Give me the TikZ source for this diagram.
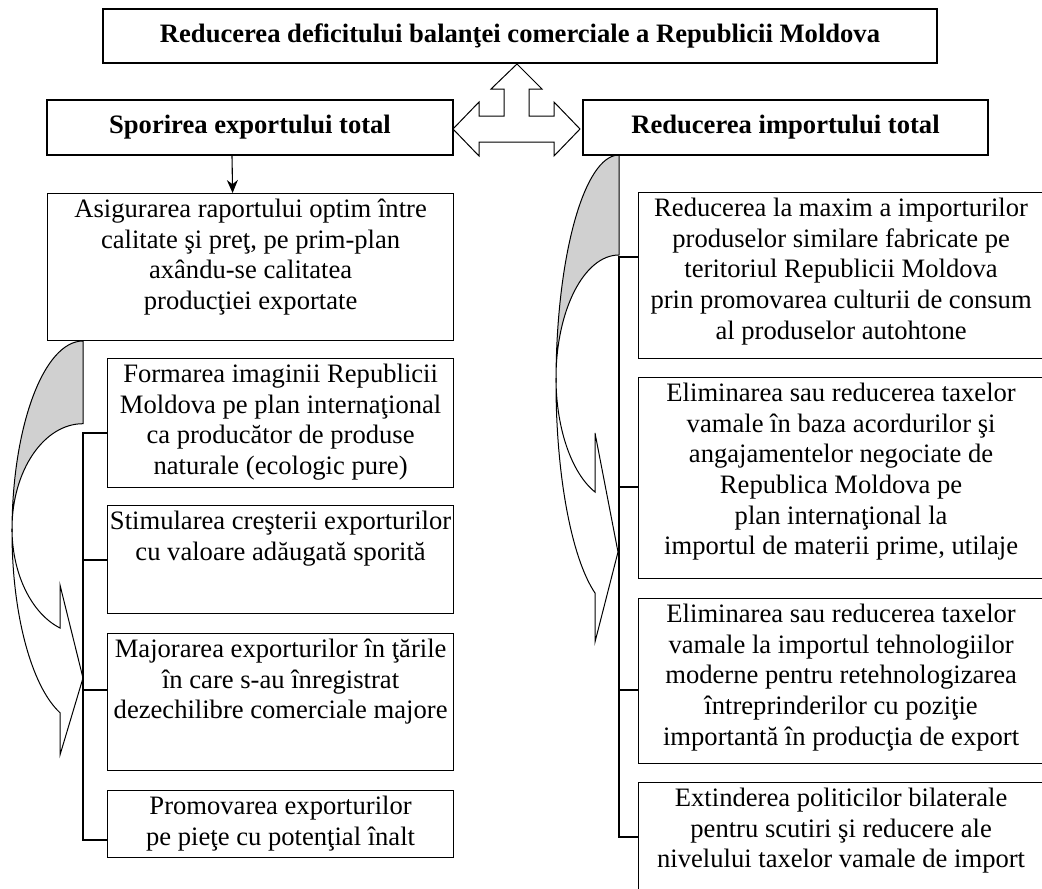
\documentclass[tikz,border=0pt]{standalone}
\usepackage{fontspec}
\setmainfont{Liberation Serif}
\usetikzlibrary{arrows.meta}
\definecolor{shade}{RGB}{208,208,208}
\begin{document}
\begin{tikzpicture}[x=1pt,y=1pt,
  box/.style={draw=black, line width=1.2pt, fill=white, inner sep=0pt, anchor=north west},
  hdr/.style={draw=black, line width=1.2pt, fill=white, inner sep=0pt, font=\fontsize{26.6}{30.6}\selectfont\bfseries},
  txt/.style={inner sep=0pt, anchor=north, align=center, font=\fontsize{26.6}{30.6}\selectfont},
  ln/.style={line width=1.1pt},
  band/.style={draw=black, line width=1pt, line join=miter},
]
\useasboundingbox (0,0) rectangle (1042,-889);
\clip (0,0) rectangle (1042,-889);

% curved arrow, left
\filldraw[band, fill=shade] (83,-341) arc[start angle=90,end angle=180,x radius=71pt,y radius=191pt]
  -- (12,-528.7) arc[start angle=180,end angle=90,x radius=71pt,y radius=105pt] -- cycle;
\filldraw[band, fill=white] (12,-532) arc[start angle=180,end angle=251.1,x radius=71pt,y radius=191pt]
  -- (60,-755) -- (83,-678) -- (60,-585) -- (60,-628)
  arc[start angle=251.1,end angle=180,x radius=71pt,y radius=105pt] -- cycle;

% curved arrow, right
\filldraw[band, fill=shade] (619,-155) arc[start angle=90,end angle=180,x radius=63pt,y radius=227.6pt]
  -- (556,-378.2) arc[start angle=180,end angle=90,x radius=63pt,y radius=123.2pt] -- cycle;
\filldraw[band, fill=white] (556,-382.6) arc[start angle=180,end angle=247.6,x radius=63pt,y radius=227.6pt]
  -- (595,-642) -- (618,-552) -- (595,-433) -- (595,-492)
  arc[start angle=247.6,end angle=180,x radius=63pt,y radius=123.2pt] -- cycle;

% header nodes
\node[hdr, minimum width=834pt, minimum height=54pt] (T) at (520,-36) {Reducerea deficitului balanţei comerciale a Republicii Moldova};
\node[hdr, minimum width=406pt, minimum height=55pt] (E) at (250,-127.5) {Sporirea exportului total};
\node[hdr, minimum width=405pt, minimum height=55pt] (I) at (785.5,-127.5) {Reducerea importului total};

% three-way block arrow
\filldraw[band, fill=white] (517,-64) -- (542,-89) -- (529,-89) -- (529,-116) -- (554,-116) -- (554,-102)
  -- (580,-129) -- (554,-156) -- (554,-142) -- (479,-142) -- (479,-156) -- (453,-129) -- (479,-102)
  -- (479,-116) -- (504,-116) -- (504,-89) -- (491,-89) -- cycle;

% left boxes
\node[box, minimum width=406pt, minimum height=147pt] (L1) at (47,-193) {};
\node[box, minimum width=346pt, minimum height=129pt] (L2) at (107,-358) {};
\node[box, minimum width=346pt, minimum height=108pt] (L3) at (107,-505) {};
\node[box, minimum width=346pt, minimum height=137pt] (L4) at (107,-633) {};
\node[box, minimum width=346pt, minimum height=67pt] (L5) at (107,-790) {};

% right boxes
\node[box, minimum width=405pt, minimum height=166pt] (R1) at (638,-192) {};
\node[box, minimum width=405pt, minimum height=201pt] (R2) at (638,-377) {};
\node[box, minimum width=405pt, minimum height=165pt] (R3) at (638,-598) {};
\node[box, minimum width=405pt, minimum height=120pt] (R4) at (638,-782) {};

% texts
\node[txt] (L1t) at ([yshift=-3pt]L1.north) {\strut Asigurarea raportului optim între\\calitate şi preţ, pe prim-plan\\axându-se calitatea\\producţiei exportate};
\node[txt] (L2t) at ([yshift=-3pt]L2.north) {\strut Formarea imaginii Republicii\\Moldova pe plan internaţional\\ca producător de produse\\naturale (ecologic pure)};
\node[txt] (L3t) at ([yshift=-3pt]L3.north) {\strut Stimularea creşterii exporturilor\\cu valoare adăugată sporită};
\node[txt] (L4t) at ([yshift=-3pt]L4.north) {\strut Majorarea exporturilor în ţările\\în care s-au înregistrat\\dezechilibre comerciale majore};
\node[txt] (L5t) at ([yshift=-3pt]L5.north) {\strut Promovarea exporturilor\\pe pieţe cu potenţial înalt};

\node[txt] (R1t) at ([yshift=-3pt]R1.north) {\strut Reducerea la maxim a importurilor\\produselor similare fabricate pe\\teritoriul Republicii Moldova\\prin promovarea culturii de consum\\al produselor autohtone};
\node[txt] (R2t) at ([yshift=-3pt]R2.north) {\strut Eliminarea sau reducerea taxelor\\vamale în baza acordurilor şi\\angajamentelor negociate de\\Republica Moldova pe\\plan internaţional la\\importul de materii prime, utilaje};
\node[txt] (R3t) at ([yshift=-3pt]R3.north) {\strut Eliminarea sau reducerea taxelor\\vamale la importul tehnologiilor\\moderne pentru retehnologizarea\\întreprinderilor cu poziţie\\importantă în producţia de export};
\node[txt] (R4t) at ([yshift=-3pt]R4.north) {\strut Extinderea politicilor bilaterale\\pentru scutiri şi reducere ale\\nivelului taxelor vamale de import};

% arrow export header -> first box
\draw[ln, -{Stealth[length=13pt,width=11pt]}] ([xshift=-18pt]E.south) -- ([xshift=-18pt]L1.north);

% left bracket
\coordinate (la) at (83,-433);
\coordinate (lb) at (83,-560);
\coordinate (lc) at (83,-690);
\coordinate (ld) at (83,-840);
\draw[ln] (la -| L2.west) -- (la) -- (ld) -- (ld -| L5.west);
\draw[ln] (lb) -- (lb -| L3.west);
\draw[ln] (lc) -- (lc -| L4.west);

% right bracket
\coordinate (ra) at (619,-257);
\coordinate (rb) at (619,-487);
\coordinate (rc) at (619,-690);
\coordinate (rd) at (619,-837);
\draw[ln] (ra -| R1.west) -- (ra) -- (rd) -- (rd -| R4.west);
\draw[ln] (rb) -- (rb -| R2.west);
\draw[ln] (rc) -- (rc -| R3.west);
\end{tikzpicture}
\end{document}
